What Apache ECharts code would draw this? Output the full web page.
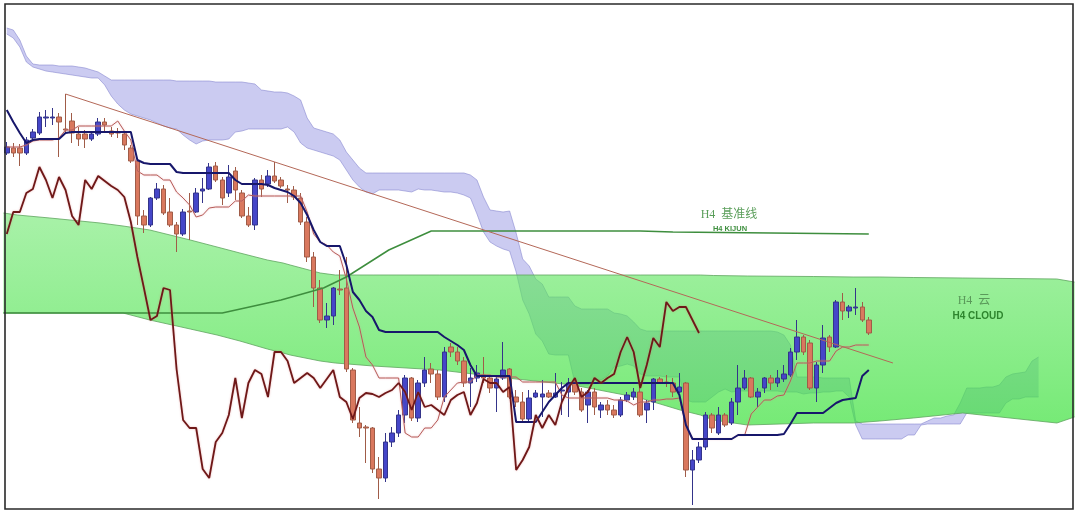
<!DOCTYPE html>
<html>
<head>
<meta charset="utf-8">
<script src="https://cdn.jsdelivr.net/npm/echarts@6/dist/echarts.min.js"></script>
<style>html,body{margin:0;padding:0;background:#fff;}#c{width:1080px;height:516px;}</style>
</head>
<body>
<div id="c"></div>
<script>
// ---- H1 bars (category slots: 133 candles + 31 future slots for the shifted cloud)
const categories = Array.from({length: 164}, (_, i) => 'H1-' + (i + 1));

// [open, close, low, high]
const ohlc = [
[356,362,354,367],[361,356,352,366],[361,356,343,365],[356,369,354,372],[371,377,369,380],
[376,392,374,397],[391,392,382,399],[391,392,384,401],[392,387,352,396],[380,379,375,415],
[388,376,366,396],[375,370,363,382],[375,370,361,379],[370,375,368,378],[375,387,373,391],
[387,384,376,391],[378,375,372,382],[377,376,371,381],[375,364,359,377],[361,348,346,364],
[348,293,284,351],[293,284,276,299],[284,311,282,312],[311,320,309,326],[320,296,294,324],
[297,284,282,311],[284,275,257,287],[275,297,273,300],[298,297,269,316],[297,316,296,321],
[318,320,306,331],[320,342,319,346],[343,329,327,347],[329,311,304,332],[316,332,312,344],
[338,319,309,342],[316,293,291,319],[293,284,282,302],[284,329,279,331],[329,320,312,334],
[325,333,322,339],[333,328,326,347],[329,323,321,332],[320,319,306,324],[319,312,309,323],
[311,287,284,316],[287,252,247,292],[252,221,202,257],[221,189,186,229],[189,193,181,206],
[193,221,184,222],[220,219,214,239],[221,140,137,252],[139,89,86,141],[86,81,72,102],
[82,81,46,84],[81,40,36,82],[40,31,10,52],[31,67,27,76],[67,76,62,82],
[76,94,72,99],[94,131,86,134],[131,91,88,132],[91,126,87,129],[126,139,122,152],
[140,135,126,146],[135,112,109,139],[112,157,107,162],[162,157,152,166],[157,148,144,162],
[148,126,122,152],[126,131,102,141],[131,136,127,144],[134,131,126,152],[131,121,116,134],
[121,130,97,132],[131,139,129,167],[140,112,110,141],[112,107,102,119],[107,90,86,117],
[90,111,86,119],[112,116,111,119],[112,115,92,129],[116,112,111,119],[112,116,111,136],
[118,119,94,127],[117,126,92,131],[126,117,114,129],[117,99,97,121],[104,117,86,119],
[117,102,94,121],[99,104,91,107],[104,99,94,109],[99,94,91,104],[94,109,92,112],
[109,114,107,117],[112,117,109,121],[117,94,92,127],[99,106,86,109],[107,130,99,131],
[130,126,125,132],[127,126,122,134],[126,117,112,131],[117,122,116,136],[126,39,32,127],
[39,49,4,59],[49,62,46,67],[62,94,59,97],[94,81,76,96],[76,94,74,102],
[94,84,82,96],[86,107,84,111],[107,121,94,144],[121,131,119,139],[131,112,111,132],
[112,117,102,121],[121,131,116,132],[131,126,119,134],[126,131,122,139],[130,135,127,144],
[134,157,132,161],[157,172,149,189],[172,157,154,174],[166,121,119,169],[121,144,107,147],
[144,171,136,184],[172,162,157,174],[162,207,161,209],[207,198,189,216],[198,202,191,204],
[201,202,194,221],[202,189,187,207],[189,176,174,192]
];

// H1 Tenkan (thin red) and Kijun (navy)
const tenkan = [
362,362,362,364,368,369,369,369,371,379,
379,383,383,383,383,383,383,388,378,369,
338,334,334,334,329,329,317,311,304,292,
294,301,302,302,302,308,308,314,313,313,
313,313,313,313,313,313,297,275,267,264,
257,253,230,201,182,152,144,131,131,131,
131,76,72,72,81,81,89,112,119,126,
127,127,134,134,134,132,132,132,132,127,
127,127,127,127,127,114,111,111,111,111,
111,111,111,109,109,108,104,107,107,109,
109,110,110,111,84,70,70,70,70,70,
70,70,74,74,95,102,109,109,113,114,
128,146,146,146,148,148,148,158,162,162,
164,164,164];
const kijun = [
399,387,376,366,369,370,370,370,370,376,
377,377,377,377,377,377,377,377,377,377,
349,346,345,345,345,345,337,336,336,336,
336,336,336,336,336,329,325,325,325,325,
324,321,319,317,313,306,294,279,267,263,
263,263,244,217,209,198,192,179,177,177,
177,177,177,177,177,177,177,172,168,164,
159,144,133,133,133,133,133,133,87,87,
87,87,97,107,114,121,126,126,126,126,
126,126,126,126,126,126,126,126,126,126,
126,126,126,114,84,70,70,70,70,70,
70,70,74,74,74,74,74,74,74,75,
85,96,96,96,96,96,101,106,109,110,
111,133,139];

// H1 cloud (lavender), upper and lower edge per slot
const lavTop = [
481,479,469,453,445,444,444,444,443,443,
443,442,441,439,437,433,429,429,429,429,
429,429,429,429,429,429,428,428,428,428,
428,428,427,427,427,427,427,426,425,419,
418,417,417,416,413,409,391,381,379,377,
375,369,357,349,341,336,336,336,336,336,
336,336,336,336,336,336,336,336,336,336,
336,334,329,312,299,298,297,298,276,250,
243,230,225,212,212,212,212,203,200,200,
200,200,200,196,195,193,187,180,178,178,
178,178,178,178,178,178,178,178,178,178,
178,178,178,178,178,178,178,178,177,174,
164,132,132,132,132,131,131,131,131,131,
88,85,85,85,85,85,85,85,85,85,
85,88,91,91,93,94,106,121,121,121,
122,122,124,132,135,136,137,148,152];
const lavBot = [
475,471,462,447,442,440,438,437,436,435,
434,433,432,431,431,424,413,405,399,395,
393,391,389,386,383,381,380,374,369,365,
368,369,369,369,370,377,378,380,380,380,
380,380,380,382,377,366,361,359,357,355,
353,349,339,329,322,317,315,319,319,319,
319,318,317,320,319,319,318,317,317,316,
314,311,295,277,267,263,260,258,237,209,
195,175,168,155,154,154,154,126,124,124,
129,129,133,142,143,145,143,135,133,133,
133,132,132,132,109,107,107,107,112,117,
120,117,118,118,118,118,118,118,118,117,
117,117,115,116,116,117,117,118,118,112,
84,70,70,70,70,70,70,70,74,74,
84,85,85,85,85,85,85,96,96,96,
96,96,96,106,110,110,112,112,112];

// H4 cloud (green) and H4 Kijun, vertices in bar-index units
const h4X   = [-0.5,1.6,6.6,14.3,17.8,21.9,28.1,32.2,35.7,39.9,42.3,43.4,48,50.3,56.1,66.3,76.6,86.7,97,103.1,106.2,108.2,113.4,123.5,129.6,133.7,138.8,146.4,160.8,163.5];
const h4Top = [296,294,291,286,283,279,269,262,256,249,246,244,236,234,234,234,234,234,234,234,234,233.5,233,232.5,232,232,231.5,231,230,227];
const h4Bot = [196,196,196,196,196,189,180,174,168,160,156,154,148,146,143,139,131,124,111,99,94,89,84,86,86,88,91,96,86,92];
const h4KijunX = [-0.5,33,42,48.5,52,58.5,65,97,102,132];
const h4KijunY = [196,196,209,221,232,259,278,278,277,275];

// Down trend line from the bar-9 high
const trendX = [9,135.7];
const trendY = [415,146];

// ---- build
const closes = ohlc.map(d => d[1]);
const chikou = closes.slice(26);          // lagging span: close plotted 26 bars back
const lavBand = lavTop.map((v, i) => v - lavBot[i]);
const pairs = (xs, ys) => xs.map((x, i) => [x, ys[i]]);

const chart = echarts.init(document.getElementById('c'), null, {renderer: 'canvas'});
const lineBase = {type: 'line', symbol: 'none', silent: true, animation: false};

const h4Fill = new echarts.graphic.LinearGradient(0, 0, 0, 1, [
  {offset: 0, color: 'rgba(110,232,110,0.60)'},
  {offset: 1, color: 'rgba(60,225,60,0.70)'}
]);

chart.setOption({
  backgroundColor: '#ffffff',
  animation: false,
  grid: {left: 3.5, right: 5.5, top: 4, bottom: 7},
  xAxis: [
    {type: 'category', data: categories, show: false, boundaryGap: true},
    {type: 'value', min: -0.5, max: 163.5, show: false}
  ],
  yAxis: {type: 'value', min: 0, max: 505, show: false, splitLine: {show: false}},
  graphic: [
    {type: 'rect', shape: {x: 5, y: 4, width: 1068, height: 505}, style: {fill: 'none', stroke: '#2a2a2a', lineWidth: 1.6}, z: 100, silent: true},
    {type: 'text', x: 729, y: 215, z: 100, style: {text: 'H4  基准线', fill: '#5a9e5a', font: '12px "Liberation Serif", "Noto Sans CJK SC"', align: 'center', verticalAlign: 'middle', textAlign: 'center', textVerticalAlign: 'middle'}},
    {type: 'text', x: 730, y: 228.5, z: 100, style: {text: 'H4 KIJUN', fill: '#3f8f3f', font: 'bold 7.5px "Liberation Sans"', align: 'center', verticalAlign: 'middle', textAlign: 'center', textVerticalAlign: 'middle'}},
    {type: 'text', x: 974, y: 301, z: 100, style: {text: 'H4  云', fill: '#5a9a5a', font: '12px "Liberation Serif", "Noto Sans CJK SC"', align: 'center', verticalAlign: 'middle', textAlign: 'center', textVerticalAlign: 'middle'}},
    {type: 'text', x: 978, y: 316, z: 100, style: {text: 'H4 CLOUD', fill: '#2e862e', font: 'bold 10px "Liberation Sans"', align: 'center', verticalAlign: 'middle', textAlign: 'center', textVerticalAlign: 'middle'}}
  ],
  series: [
    Object.assign({}, lineBase, {name: 'H1 cloud low', xAxisIndex: 0, data: lavBot, stack: 'lav', z: 1,
      lineStyle: {color: 'rgba(130,130,205,0.7)', width: 0.8}}),
    Object.assign({}, lineBase, {name: 'H1 cloud', xAxisIndex: 0, data: lavBand, stack: 'lav', z: 1,
      lineStyle: {color: 'rgba(130,130,205,0.7)', width: 0.8},
      areaStyle: {color: 'rgba(145,145,226,0.47)', opacity: 1}}),
    {name: 'H4 cloud', type: 'custom', xAxisIndex: 1, yAxisIndex: 0, z: 2, silent: true, animation: false,
      data: h4X.map((x, i) => [x, h4Top[i], h4Bot[i]]),
      encode: {x: 0, y: [1, 2]},
      renderItem: function (params, api) {
        if (params.dataIndex !== 0) return null;
        const top = h4X.map((x, i) => api.coord([x, h4Top[i]]));
        const bot = h4X.map((x, i) => api.coord([x, h4Bot[i]]));
        const edge = {stroke: 'rgba(95,165,95,0.8)', lineWidth: 1, fill: null};
        return {type: 'group', children: [
          {type: 'polygon', shape: {points: top.concat(bot.slice().reverse())}, style: {fill: h4Fill}},
          {type: 'polyline', shape: {points: top}, style: edge},
          {type: 'polyline', shape: {points: bot}, style: edge}
        ]};
      }},
    {name: 'H1', type: 'candlestick', xAxisIndex: 0, data: ohlc, barWidth: 5, z: 3, animation: false,
      itemStyle: {color: '#4546c8', color0: '#d9785e', borderColor: '#34348a', borderColor0: '#a05c48', borderWidth: 1}},
    Object.assign({}, lineBase, {name: 'Tenkan', xAxisIndex: 0, data: tenkan, z: 4,
      lineStyle: {color: '#b65c58', width: 1, shadowColor: 'rgba(230,150,160,0.6)', shadowBlur: 2}}),
    Object.assign({}, lineBase, {name: 'H4 Kijun', xAxisIndex: 1, data: pairs(h4KijunX, h4KijunY), z: 4,
      lineStyle: {color: '#3e8e3e', width: 1.5}}),
    Object.assign({}, lineBase, {name: 'Trend', xAxisIndex: 1, data: pairs(trendX, trendY), z: 4,
      lineStyle: {color: '#b46858', width: 1}}),
    Object.assign({}, lineBase, {name: 'Kijun', xAxisIndex: 0, data: kijun, z: 5,
      lineStyle: {color: '#17176b', width: 2}}),
    Object.assign({}, lineBase, {name: 'Chikou', xAxisIndex: 0, data: chikou, z: 5,
      lineStyle: {color: '#6e1818', width: 1.8, shadowColor: 'rgba(220,110,110,0.5)', shadowBlur: 2}})
  ]
});
</script>
</body>
</html>
